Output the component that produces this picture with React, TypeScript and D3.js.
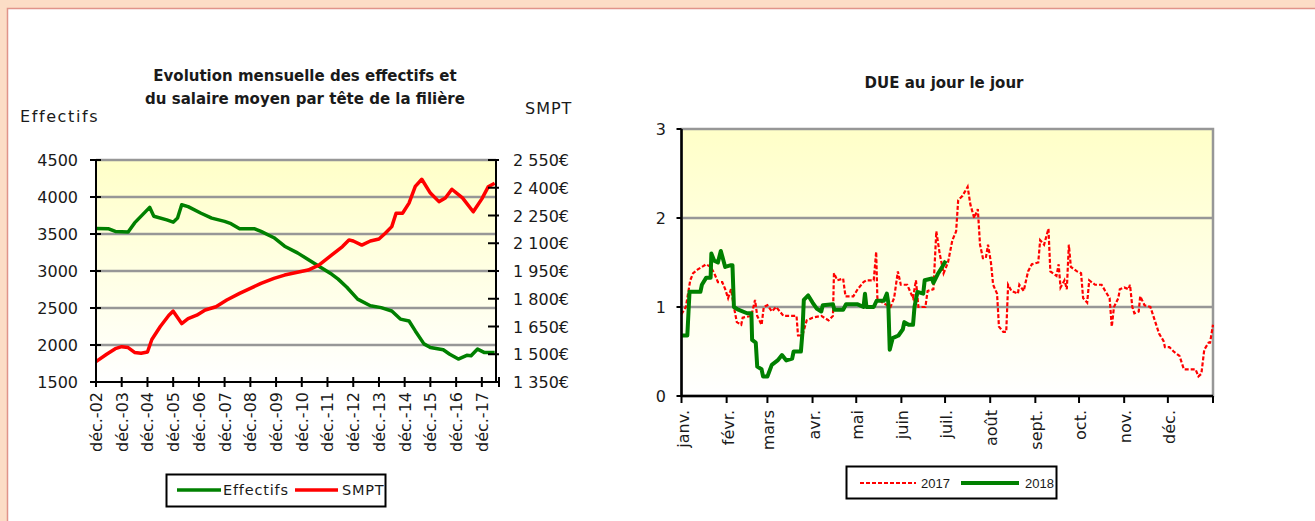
import React from 'react';
import * as d3 from 'd3';

// ---------- Left chart data ----------
const effDates = ['2002-12','2003-06','2003-09','2004-03','2004-06','2005-01','2005-03','2005-09','2005-12','2006-02',
  '2006-04','2006-07','2007-01','2007-06','2007-12','2008-03','2008-07','2009-02','2009-05','2009-11',
  '2010-04','2010-10','2011-03','2011-08','2012-02','2012-05','2012-09','2013-02','2013-08','2014-01',
  '2014-06','2014-10','2015-02','2015-05','2015-09','2015-12','2016-06','2016-09','2017-01','2017-05',
  '2017-07','2017-10','2018-01','2018-06'];
const effValues = [3575,3570,3535,3527,3650,3860,3740,3690,3660,3715,
  3895,3870,3780,3715,3670,3640,3570,3570,3535,3450,
  3335,3245,3155,3065,2955,2890,2780,2620,2530,2505,
  2460,2350,2325,2190,2015,1965,1935,1875,1810,1860,
  1855,1945,1900,1900];

const smptDates = ['2002-12','2003-05','2003-09','2003-12','2004-03','2004-06','2004-09','2004-12','2005-02','2005-06',
  '2005-10','2005-12','2006-04','2006-07','2006-11','2007-03','2007-08','2008-01','2008-07','2008-12',
  '2009-05','2009-11','2010-04','2010-10','2011-03','2011-08','2012-02','2012-07','2012-10','2012-12',
  '2013-04','2013-08','2013-12','2014-03','2014-06','2014-08','2014-11','2015-02','2015-05','2015-08',
  '2015-12','2016-04','2016-07','2016-10','2017-03','2017-08','2017-12','2018-03','2018-06'];
const smptValues = [1460,1500,1530,1541,1536,1510,1505,1512,1580,1650,
  1711,1733,1666,1693,1711,1739,1757,1793,1829,1856,
  1883,1910,1928,1943,1955,1982,2037,2082,2118,2112,
  2090,2112,2123,2154,2190,2262,2262,2317,2407,2446,
  2371,2325,2345,2392,2345,2270,2340,2405,2424];

const leftTickLabels = ['déc.-02','déc.-03','déc.-04','déc.-05','déc.-06','déc.-07','déc.-08','déc.-09',
  'déc.-10','déc.-11','déc.-12','déc.-13','déc.-14','déc.-15','déc.-16','déc.-17'];
const effTicks = [1500,2000,2500,3000,3500,4000,4500];
const smptTicks = [1350,1500,1650,1800,1950,2100,2250,2400,2550];

// ---------- Right chart data (day of year) ----------
const due2017Days = [0,3,6,8,11,14,17,20,22.5,25,
  28,30,32,34,36,38,41,42,48,50.5,
  52,55,56.5,59,62,65,67.5,70,79,80,
  83,86,90,96,101,104,104.7,107,111,112.6,
  118,121,125,127,132,133.7,134.5,138,143.5,146,
  148.6,150.6,155,159,161,162.7,167.5,169,173,175,
  177.3,180,183,186,188.6,190,193,196.5,198.4,201,
  203.5,205,207,209,210.5,212.5,214,216.7,218,221,
  223,224.3,226.6,231,232,235,238,240.6,245,246.3,
  249,252,253.3,257.5,259,260.3,263,264.6,266,267.4,
  271.6,274.4,275.8,278.6,280,284,288.5,291,294,295.5,
  297,300,301,304,307,308,309.6,311,314,315,
  318,322,325,328,331,332,335,338,342,345,
  349,353,355,357,359,362,363,365];
const due2017Values = [0.92,1.0,1.3,1.38,1.42,1.45,1.48,1.45,1.38,1.28,
  1.28,1.2,1.1,1.2,1.0,0.83,0.8,0.88,0.9,1.08,
  0.9,0.8,1.0,1.02,0.95,1.0,0.95,0.9,0.9,0.68,
  0.68,0.85,0.88,0.9,0.85,0.9,1.38,1.3,1.32,1.12,
  1.12,1.2,1.28,1.3,1.3,1.62,1.1,1.05,1.0,1.1,
  1.4,1.25,1.25,1.1,1.3,1.0,1.0,1.18,1.2,1.85,
  1.6,1.38,1.5,1.75,1.85,2.2,2.25,2.35,2.15,2.0,
  2.1,1.7,1.55,1.55,1.7,1.5,1.25,1.15,0.78,0.72,
  0.72,1.25,1.18,1.15,1.25,1.18,1.4,1.48,1.5,1.75,
  1.7,1.88,1.4,1.35,1.48,1.22,1.3,1.2,1.7,1.45,
  1.4,1.38,1.1,1.05,1.3,1.25,1.25,1.18,1.1,0.78,
  1.0,1.1,1.2,1.22,1.2,1.25,1.0,0.93,0.95,1.12,
  1.02,1.0,0.85,0.7,0.62,0.55,0.55,0.5,0.45,0.3,
  0.3,0.3,0.22,0.25,0.52,0.6,0.6,0.8];

const due2018Days = [0,4,5.5,13,14,17,20,20.5,22.5,25,
  27,30,34,35,36,39,45,48,48.5,51,
  52,55,56,59,62,66,69,72,76,77,
  82,83,84,87,90,93,96,97,104,105,
  111,113,121,125,126,127,132,134,139,141,
  142,143,145,149,152,153,156,159,160,162,
  166,167,172,173,176,179,181.5];
const due2018Values = [0.68,0.68,1.17,1.17,1.25,1.33,1.33,1.6,1.52,1.5,
  1.63,1.45,1.47,1.47,1.0,0.97,0.93,0.93,0.63,0.6,
  0.33,0.3,0.22,0.22,0.35,0.4,0.46,0.4,0.42,0.5,
  0.5,0.7,1.08,1.13,1.05,0.98,0.95,1.02,1.03,0.97,
  0.97,1.03,1.03,1.0,1.15,1.0,1.0,1.07,1.07,1.15,
  1.05,0.52,0.65,0.68,0.75,0.83,0.8,0.8,1.0,1.17,
  1.15,1.3,1.32,1.27,1.37,1.45,1.52];

const monthLabels = ['janv.','févr.','mars','avr.','mai','juin','juil.','août','sept.','oct.','nov.','déc.'];
const dueTicks = [0,1,2,3];

const FONT = '"DejaVu Sans", Verdana, sans-serif';
const INK = '#1a1a1a';

function fmtEuro(v: number) {
  const s = String(v);
  return s[0] + ' ' + s.slice(1) + '€';
}

export default function App() {
  const parse = d3.timeParse('%Y-%m');
  // left chart geometry
  const L = { x0: 96, x1: 496, y0: 160, y1: 382 };
  const xL = d3.scaleTime()
    .domain([parse('2002-12') as Date, new Date(2018, 5, 20)])
    .range([L.x0, L.x1]);
  const yEff = d3.scaleLinear().domain([1500, 4500]).range([L.y1, L.y0]);
  const ySmpt = d3.scaleLinear().domain([1350, 2550]).range([L.y1, L.y0]);
  const leftTickDates = leftTickLabels.map((_, i) => new Date(2002 + i, 11, 1));

  const effLine = d3.line<number>()
    .x((_, i) => xL(parse(effDates[i]) as Date))
    .y((d) => yEff(d));
  const smptLine = d3.line<number>()
    .x((_, i) => xL(parse(smptDates[i]) as Date))
    .y((d) => ySmpt(d));

  // right chart geometry
  const R = { x0: 681.5, x1: 1213, y0: 129, y1: 396 };
  const xR = d3.scaleLinear().domain([0, 365]).range([R.x0, R.x1]);
  const yR = d3.scaleLinear().domain([0, 3]).range([R.y1, R.y0]);
  const start = new Date(2017, 0, 1);
  const monthStarts = d3.timeMonths(start, new Date(2018, 0, 2)).map((d) => d3.timeDay.count(start, d));

  const line2017 = d3.line<number>().x((_, i) => xR(due2017Days[i])).y((d) => yR(d));
  const line2018 = d3.line<number>().x((_, i) => xR(due2018Days[i])).y((d) => yR(d));

  const grid = '#979797';

  return (
    <div style={{ position: 'absolute', left: 0, top: 0 }}>
      <svg width={1315} height={521} style={{ display: 'block' }}>
        <defs>
          <linearGradient id="plotBg" x1="0" y1="0" x2="0" y2="1">
            <stop offset="0" stopColor="#FFFFC8" />
            <stop offset="1" stopColor="#FFFFFF" />
          </linearGradient>
        </defs>
        <rect x={0} y={0} width={1315} height={521} fill="#FCDDC6" />
        <rect x={7.5} y={8.5} width={1330} height={530} fill="#FFFFFF" stroke="#E0948A" strokeWidth={1.5} />

        {/* ---------- Left chart ---------- */}
        <text x={305} y={81} textAnchor="middle" fontFamily={FONT} fontWeight="bold" fontSize={15} fill={INK}>
          Evolution mensuelle des effectifs et
        </text>
        <text x={305} y={104} textAnchor="middle" fontFamily={FONT} fontWeight="bold" fontSize={15} fill={INK}>
          du salaire moyen par tête de la filière
        </text>
        <text x={20} y={122} fontFamily={FONT} fontSize={16} letterSpacing={1.6} fill={INK}>Effectifs</text>
        <text x={525} y={114} fontFamily={FONT} fontSize={16} letterSpacing={1} fill={INK}>SMPT</text>

        <rect x={L.x0} y={L.y0} width={L.x1 - L.x0} height={L.y1 - L.y0} fill="url(#plotBg)" />
        {effTicks.slice(1).map((t) => (
          <line key={'g' + t} x1={L.x0} x2={L.x1} y1={yEff(t)} y2={yEff(t)} stroke={grid} strokeWidth={2.5} />
        ))}
        <path d={effLine(effValues) || ''} fill="none" stroke="#008000" strokeWidth={3.5} strokeLinejoin="round" />
        <path d={smptLine(smptValues) || ''} fill="none" stroke="#FF0000" strokeWidth={3.5} strokeLinejoin="round" />

        {/* axes */}
        <line x1={L.x0} x2={L.x0} y1={L.y0} y2={L.y1} stroke="#000" strokeWidth={2} />
        <line x1={L.x1} x2={L.x1} y1={L.y0} y2={L.y1} stroke="#000" strokeWidth={2} />
        <line x1={L.x0 - 6} x2={L.x1 + 3} y1={L.y1} y2={L.y1} stroke="#000" strokeWidth={2} />
        {effTicks.map((t) => (
          <g key={'e' + t}>
            <line x1={L.x0 - 6} x2={L.x0 + 5} y1={yEff(t)} y2={yEff(t)} stroke="#000" strokeWidth={2} />
            <text x={78} y={yEff(t) + 6} textAnchor="end" fontFamily={FONT} fontSize={16} fill={INK}>{t}</text>
          </g>
        ))}
        {smptTicks.map((t) => (
          <g key={'s' + t}>
            <line x1={L.x1 - 8} x2={L.x1 + 3} y1={ySmpt(t)} y2={ySmpt(t)} stroke="#000" strokeWidth={2} />
            <text x={513} y={ySmpt(t) + 6} fontFamily={FONT} fontSize={16} fill={INK}>{fmtEuro(t)}</text>
          </g>
        ))}
        {leftTickDates.map((d, i) => (
          <g key={'x' + i}>
            <line x1={xL(d)} x2={xL(d)} y1={L.y1 - 5} y2={L.y1 + 5} stroke="#000" strokeWidth={2} />
            <text transform={`translate(${xL(d) + 6},${392}) rotate(-90)`} textAnchor="end"
              fontFamily={FONT} fontSize={16} fill={INK}>{leftTickLabels[i]}</text>
          </g>
        ))}
        <line x1={L.x1 + 3} x2={L.x1 + 3} y1={L.y1 - 5} y2={L.y1 + 5} stroke="#000" strokeWidth={2} />

        {/* left legend */}
        <rect x={166.5} y={474.5} width={219} height={32} fill="#fff" stroke="#000" strokeWidth={2} />
        <line x1={177} x2={221} y1={490} y2={490} stroke="#008000" strokeWidth={3.5} />
        <text x={223} y={495} fontFamily={FONT} fontSize={14.5} letterSpacing={0.8} fill={INK}>Effectifs</text>
        <line x1={295} x2={338} y1={490} y2={490} stroke="#FF0000" strokeWidth={3.5} />
        <text x={342} y={495} fontFamily={FONT} fontSize={14.5} letterSpacing={0.8} fill={INK}>SMPT</text>

        {/* ---------- Right chart ---------- */}
        <text x={944} y={88} textAnchor="middle" fontFamily={FONT} fontWeight="bold" fontSize={15} fill={INK}>
          DUE au jour le jour
        </text>
        <rect x={R.x0} y={R.y0} width={R.x1 - R.x0} height={R.y1 - R.y0} fill="url(#plotBg)" stroke={grid} strokeWidth={2.5} />
        {dueTicks.slice(1, 3).map((t) => (
          <line key={'rg' + t} x1={R.x0} x2={R.x1} y1={yR(t)} y2={yR(t)} stroke={grid} strokeWidth={2.5} />
        ))}
        <path d={line2017(due2017Values) || ''} fill="none" stroke="#FF0000" strokeWidth={2.2} strokeDasharray="4 2" />
        <path d={line2018(due2018Values) || ''} fill="none" stroke="#008000" strokeWidth={4} strokeLinejoin="round" />
        <line x1={R.x0} x2={R.x0} y1={R.y0} y2={R.y1} stroke="#000" strokeWidth={2.5} />
        <line x1={R.x0} x2={R.x1} y1={R.y1} y2={R.y1} stroke="#000" strokeWidth={2.5} />
        {dueTicks.map((t) => (
          <g key={'ry' + t}>
            <line x1={R.x0 - 5} x2={R.x0} y1={yR(t)} y2={yR(t)} stroke="#000" strokeWidth={2} />
            <text x={666} y={yR(t) + 6} textAnchor="end" fontFamily={FONT} fontSize={16} fill={INK}>{t}</text>
          </g>
        ))}
        {monthStarts.map((d, i) => (
          <g key={'rx' + i}>
            <line x1={xR(d)} x2={xR(d)} y1={R.y1} y2={R.y1 + 7} stroke="#000" strokeWidth={2} />
            {i < monthLabels.length && (
              <text transform={`translate(${xR(d) + 7},${410}) rotate(-90)`} textAnchor="end"
                fontFamily={FONT} fontSize={16} fill={INK}>{monthLabels[i]}</text>
            )}
          </g>
        ))}

        {/* right legend */}
        <rect x={846.5} y={466.5} width={210} height={32} fill="#fff" stroke="#000" strokeWidth={2} />
        <line x1={860} x2={916} y1={483} y2={483} stroke="#FF0000" strokeWidth={2.2} strokeDasharray="4 2" />
        <text x={921} y={488} fontFamily='"Liberation Sans", Arial, sans-serif' fontSize={13} fill={INK}>2017</text>
        <line x1={961} x2={1019} y1={483} y2={483} stroke="#008000" strokeWidth={4} />
        <text x={1025} y={488} fontFamily='"Liberation Sans", Arial, sans-serif' fontSize={13} fill={INK}>2018</text>
      </svg>
    </div>
  );
}
